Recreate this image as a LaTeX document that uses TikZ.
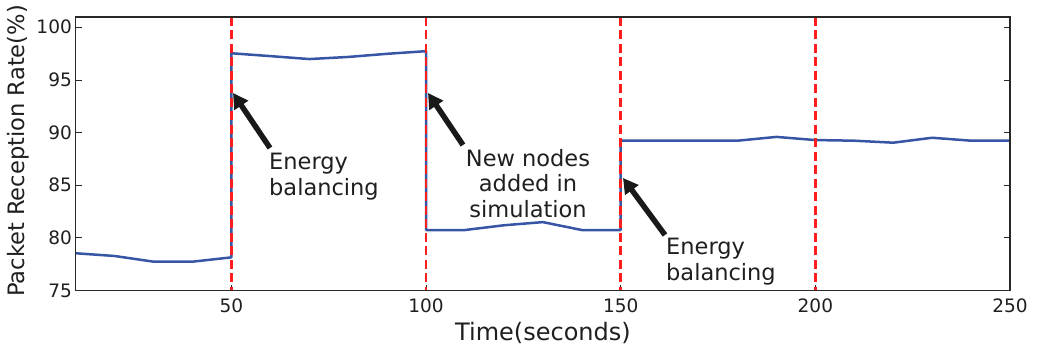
\documentclass[tikz,border=0pt]{standalone}
\usepackage{fontspec}
\setmainfont{DejaVu Sans}
\usetikzlibrary{arrows.meta}
\definecolor{curve}{RGB}{55,85,165}
\definecolor{marker}{RGB}{255,30,30}
\definecolor{frame}{RGB}{40,40,40}
\definecolor{pointer}{RGB}{25,25,25}

\begin{document}
\begin{tikzpicture}[x=1pt,y=-1pt,
  ticklabel/.style={font=\fontsize{18.5}{22}\selectfont, inner sep=0pt, text=black!88},
  axislabel/.style={font=\fontsize{24}{28}\selectfont, inner sep=0pt, text=black!88},
  note/.style={font=\fontsize{22.5}{25.5}\selectfont, inner sep=0pt, text=black!88},
  pointer/.style={draw=pointer, line width=5.5pt, -{Triangle[length=15pt,width=16pt]}},
  series/.style={draw=curve, line width=2.5pt, line join=round},
  eventline/.style={draw=marker, line width=2.6pt, dash pattern=on 9pt off 4.5pt},
  tickmark/.style={draw=frame, line width=1pt},
  axisframe/.style={draw=frame, line width=1.3pt}
]
\path[use as bounding box] (0,0) rectangle (1041,350);

% plot area: t from 10 to 250 s, rate from 75 to 101 %
\begin{scope}[shift={(75.7,290.5)}]
\begin{scope}[x=3.893pt, y=10.52pt, shift={(-10,-75)}]
  % ticks on all four sides, pointing inwards
  \foreach \t in {50,100,150,200,250} {
    \draw[tickmark] (\t,75) -- ++(0pt,6pt);
    \draw[tickmark] (\t,101) -- ++(0pt,-6pt);
    \node[ticklabel, anchor=base] (xt\t) at ([yshift=-21.5pt]\t,75) {\t};
  }
  \foreach \v in {75,80,85,90,95,100} {
    \draw[tickmark] (10,\v) -- ++(6pt,0pt);
    \draw[tickmark] (250,\v) -- ++(-6pt,0pt);
    \node[ticklabel, anchor=base east] (yt\v) at ([xshift=-3.7pt,yshift=-6.5pt]10,\v) {\v};
  }

  % packet reception rate over time
  \draw[series] plot coordinates {
    (10,78.54) (20,78.28) (30,77.74) (40,77.74) (50,78.15)
    (50,97.55) (60,97.28) (70,97.0) (80,97.2) (90,97.5) (100,97.75)
    (100,80.75) (110,80.75) (120,81.2) (130,81.5) (140,80.75) (150,80.75)
    (150,89.24) (160,89.24) (170,89.24) (180,89.24) (190,89.6) (200,89.3)
    (210,89.24) (220,89.05) (230,89.52) (240,89.24) (250,89.24)
  };

  % event markers
  \foreach \t in {50,100,150,200}
    \draw[eventline] (\t,101) -- (\t,75);

  \draw[axisframe] (10,75) rectangle (250,101);
\end{scope}
\end{scope}

% axis titles
\node[axislabel, anchor=base] (xlab) at (543,340) {Time(seconds)};
\node[axislabel, font=\fontsize{22.6}{26}\selectfont, rotate=90, anchor=base] (ylab) at (24,151) {Packet Reception Rate(\%)};

% annotations (anchored on the baseline of the last line)
\node[note, align=left, anchor=base west] (eb1) at (269,195) {Energy\\balancing};
\node[note, align=center, anchor=base] (nn) at (528,217) {New nodes\\added in\\simulation};
\node[note, align=left, anchor=base west] (eb2) at (666,280) {Energy\\balancing};

\coordinate (tip1) at (233,93);
\coordinate (tail1) at (270,148);
\coordinate (tip2) at (428,93);
\coordinate (tail2) at (463,145);
\coordinate (tip3) at (623,178);
\coordinate (tail3) at (665,235);

\draw[pointer] (tail1) -- (tip1);
\draw[pointer] (tail2) -- (tip2);
\draw[pointer] (tail3) -- (tip3);
\end{tikzpicture}
\end{document}
